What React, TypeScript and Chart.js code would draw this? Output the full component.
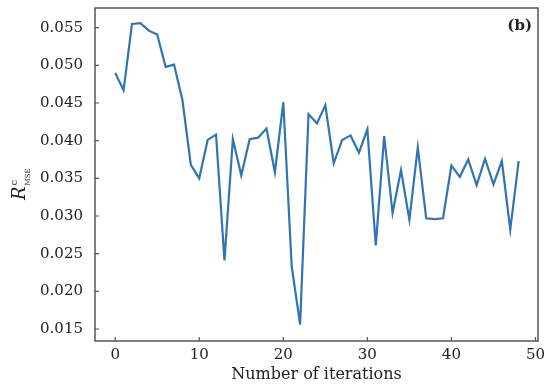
import React, { useEffect, useRef } from "react";
import { Chart, registerables } from "chart.js";

Chart.register(...registerables);

const rmseValues: number[] = [
  0.049, 0.0467, 0.0555, 0.0556, 0.0546, 0.0541, 0.0498, 0.0501, 0.0454, 0.0368,
  0.035, 0.0401, 0.0408, 0.0241, 0.0402, 0.0354, 0.0402, 0.0404, 0.0416, 0.0358,
  0.0451, 0.0233, 0.0156, 0.0435, 0.0423, 0.0447, 0.037, 0.0401, 0.0407, 0.0384,
  0.0415, 0.0261, 0.0406, 0.0304, 0.0361, 0.0295, 0.0391, 0.0297, 0.0296, 0.0297,
  0.0367, 0.0352, 0.0375, 0.0341, 0.0376, 0.0342, 0.0373, 0.0282, 0.0373,
];
const xTicks: number[] = [0, 10, 20, 30, 40, 50];
const yTicks: number[] = [0.015, 0.02, 0.025, 0.03, 0.035, 0.04, 0.045, 0.05, 0.055];
const xTitle = "Number of iterations";
const panelLabel = "(b)";

const FRAME = "#555";
const SERIF = "'DejaVu Serif', 'Liberation Serif', serif";

const decorPlugin = {
  id: "decor",
  afterDraw(chart: any) {
    const { ctx, chartArea } = chart;
    const { left, right, top, bottom } = chartArea;
    const xs = chart.scales.x;
    const ys = chart.scales.y;
    ctx.save();
    ctx.strokeStyle = FRAME;
    ctx.lineWidth = 1.5;
    ctx.strokeRect(left, top, right - left, bottom - top);
    ctx.lineWidth = 1.2;
    ctx.beginPath();
    xTicks.forEach((v) => {
      const px = xs.getPixelForValue(v);
      ctx.moveTo(px, bottom);
      ctx.lineTo(px, bottom - 4);
    });
    yTicks.forEach((v) => {
      const py = ys.getPixelForValue(v);
      ctx.moveTo(left, py);
      ctx.lineTo(left + 4, py);
    });
    ctx.stroke();

    // panel label
    ctx.fillStyle = "#222";
    ctx.font = `bold 15px ${SERIF}`;
    ctx.textAlign = "right";
    ctx.textBaseline = "middle";
    ctx.fillText(panelLabel, right - 6, top + 18);

    // y-axis title: R^c_MSE rotated
    ctx.translate(25, 194);
    ctx.rotate(-Math.PI / 2);
    ctx.textAlign = "left";
    ctx.textBaseline = "alphabetic";
    ctx.font = `italic 18px ${SERIF}`;
    ctx.fillText("R", -6, 0);
    const rw = ctx.measureText("R").width;
    ctx.font = `10px ${SERIF}`;
    ctx.fillText("c", -6 + rw + 1, -8);
    ctx.font = `7px ${SERIF}`;
    ctx.fillText("MSE", -6 + rw + 1, 5);
    ctx.restore();
  },
};

export default function App() {
  const ref = useRef<HTMLCanvasElement | null>(null);
  useEffect(() => {
    document.body.style.margin = "0";
    const canvas = ref.current;
    if (!canvas) return;
    const points = rmseValues.map((v, i) => ({ x: i, y: v }));
    const chart = new Chart(canvas, {
      type: "line",
      data: {
        datasets: [
          {
            data: points,
            borderColor: "#3074b4",
            borderWidth: 2.2,
            pointRadius: 0,
            tension: 0,
            fill: false,
          },
        ],
      },
      options: {
        animation: false,
        responsive: false,
        maintainAspectRatio: false,
        layout: { padding: { left: 0, top: 8, right: 15, bottom: 0 } },
        plugins: { legend: { display: false }, tooltip: { enabled: false } },
        scales: {
          x: {
            type: "linear",
            min: -2.4,
            max: 50.3,
            afterBuildTicks: (s: any) => {
              s.ticks = xTicks.map((v) => ({ value: v }));
            },
            afterFit: (s: any) => {
              s.height = 43;
              s.paddingLeft = 0;
              s.paddingRight = 0;
            },
            grid: { display: false, drawTicks: false },
            border: { display: false },
            ticks: {
              padding: 5,
              color: "#222",
              font: { family: SERIF, size: 15 },
              callback: (v: any) => String(v),
              maxRotation: 0,
            },
            title: {
              display: true,
              text: xTitle,
              color: "#222",
              font: { family: SERIF, size: 16 },
              padding: { top: 0, bottom: 0 },
            },
          },
          y: {
            type: "linear",
            min: 0.01341,
            max: 0.05761,
            afterBuildTicks: (s: any) => {
              s.ticks = yTicks.map((v) => ({ value: v }));
            },
            afterFit: (s: any) => {
              s.width = 95;
              s.paddingTop = 0;
              s.paddingBottom = 0;
            },
            grid: { display: false, drawTicks: false },
            border: { display: false },
            ticks: {
              padding: 12,
              color: "#222",
              font: { family: SERIF, size: 15 },
              callback: (v: any) => Number(v).toFixed(3),
            },
          },
        },
      },
      plugins: [decorPlugin],
    });
    return () => chart.destroy();
  }, []);
  return (
    <div style={{ position: "absolute", left: 0, top: 0, width: 553, height: 384, background: "#fff" }}>
      <canvas ref={ref} width={553} height={384} style={{ width: 553, height: 384, display: "block" }} />
    </div>
  );
}
